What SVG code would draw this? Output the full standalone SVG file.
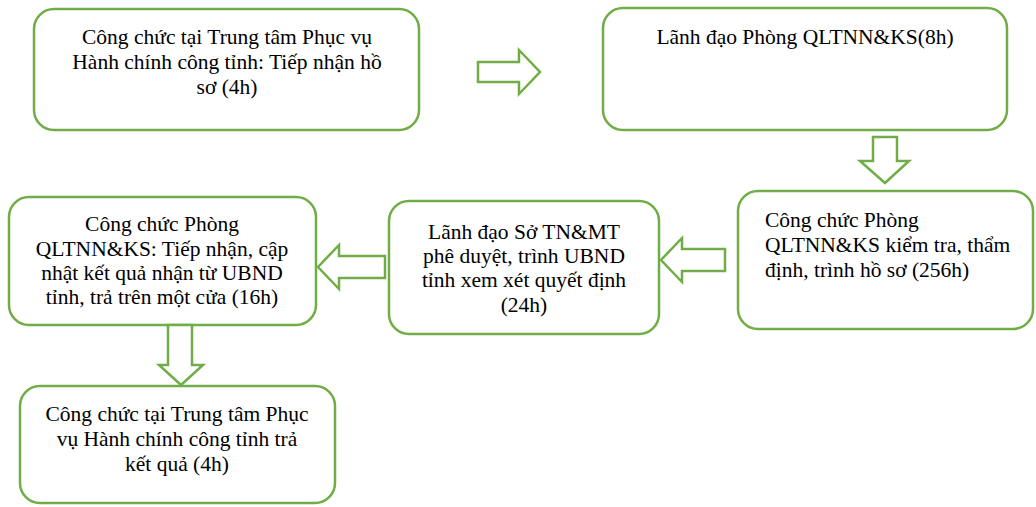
<svg xmlns="http://www.w3.org/2000/svg" width="1036" height="507" viewBox="0 0 1036 507">
<style>
.box{fill:#fff;stroke:#70AD47;stroke-width:2.5}
.arr{fill:#fff;stroke:#70AD47;stroke-width:2.5;stroke-linejoin:miter}
text{font-family:"Liberation Serif","Times New Roman",serif;font-size:21.5px;fill:#000}
.c{text-anchor:middle}
</style>
<rect width="1036" height="507" fill="#fff"/>
<g id="n1">
<rect class="box" x="34" y="9" width="385" height="121" rx="20"/>
<text class="c" x="227" y="44">Công chức tại Trung tâm Phục vụ</text>
<text class="c" x="227" y="69">Hành chính công tỉnh: Tiếp nhận hồ</text>
<text class="c" x="227" y="94">sơ (4h)</text>
</g>
<g id="n2">
<rect class="box" x="603" y="8" width="404" height="122" rx="20"/>
<text class="c" x="805" y="44">Lãnh đạo Phòng QLTNN&amp;KS(8h)</text>
</g>
<g id="n3">
<rect class="box" x="738" y="191" width="295" height="138" rx="20"/>
<text x="765" y="227">Công chức Phòng</text>
<text x="765" y="252">QLTNN&amp;KS kiểm tra, thẩm</text>
<text x="765" y="277">định, trình hồ sơ (256h)</text>
</g>
<g id="n4">
<rect class="box" x="389" y="201" width="270" height="133" rx="20"/>
<text class="c" x="524" y="239">Lãnh đạo Sở TN&amp;MT</text>
<text class="c" x="524" y="263">phê duyệt, trình UBND</text>
<text class="c" x="524" y="287">tỉnh xem xét quyết định</text>
<text class="c" x="524" y="312">(24h)</text>
</g>
<g id="n5">
<rect class="box" x="9" y="197" width="307" height="128" rx="20"/>
<text class="c" x="162" y="231">Công chức Phòng</text>
<text class="c" x="162" y="256">QLTNN&amp;KS: Tiếp nhận, cập</text>
<text class="c" x="162" y="280">nhật kết quả nhận từ UBND</text>
<text class="c" x="162" y="304">tỉnh, trả trên một cửa (16h)</text>
</g>
<g id="n6">
<rect class="box" x="20" y="386" width="315" height="117" rx="20"/>
<text class="c" x="177" y="421">Công chức tại Trung tâm Phục</text>
<text class="c" x="177" y="446">vụ Hành chính công tỉnh trả</text>
<text class="c" x="177" y="471">kết quả (4h)</text>
</g>
<g id="connectors">
<polygon class="arr" points="478,62 519,62 519,50 540,72 519,94 519,82 478,82"/>
<polygon class="arr" points="873,137 897,137 897,161 909,161 885,183 860,161 873,161"/>
<polygon class="arr" points="725,249 682,249 682,238 661,260 682,282 682,271 725,271"/>
<polygon class="arr" points="385,256 339,256 339,245 318,267 339,289 339,278 385,278"/>
<polygon class="arr" points="168,325 192,325 192,365 203,365 181,385 159,365 168,365"/>
</g>
</svg>
